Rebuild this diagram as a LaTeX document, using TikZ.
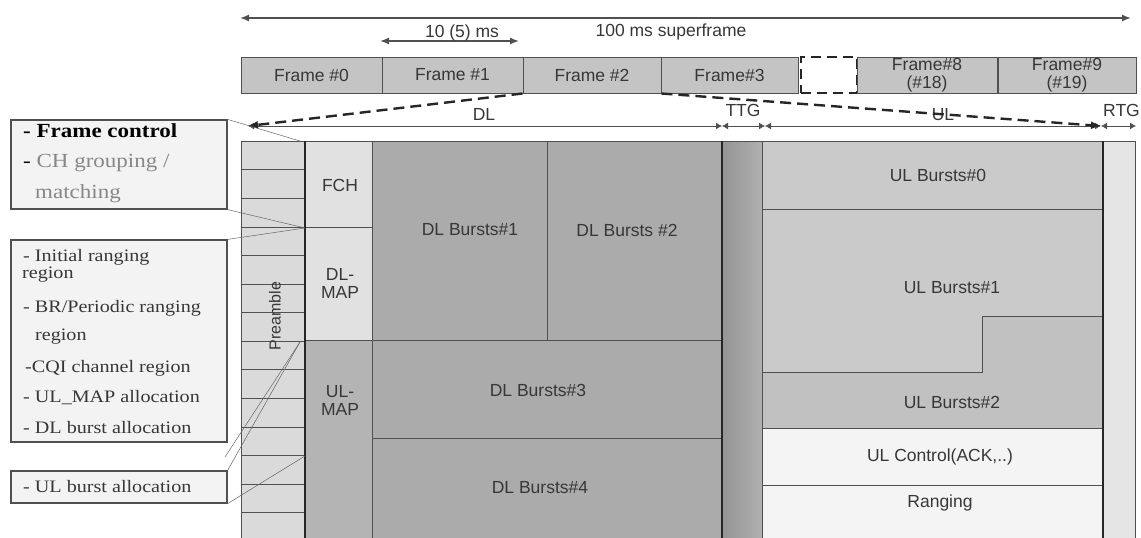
\documentclass[tikz,border=0pt]{standalone}
\usepackage{fontspec}
\setmainfont{Liberation Serif}
\setsansfont{Liberation Sans}
\newfontfamily\notefont[FakeStretch=1.15]{Liberation Serif}
\usepackage{tikz}
\usetikzlibrary{arrows.meta,positioning}

\definecolor{edge}{RGB}{80,80,80}
\definecolor{ink}{RGB}{55,55,55}
\definecolor{framegray}{RGB}{196,196,196}
\definecolor{pregray}{RGB}{218,218,218}
\definecolor{mapgray}{RGB}{225,225,225}
\definecolor{ulmapgray}{RGB}{180,180,180}
\definecolor{dlgray}{RGB}{171,171,171}
\definecolor{ttgdark}{RGB}{148,148,148}
\definecolor{ttglight}{RGB}{176,176,176}
\definecolor{ulgray}{RGB}{202,202,202}
\definecolor{ulgraydk}{RGB}{193,193,193}
\definecolor{ctrlwhite}{RGB}{244,244,244}
\definecolor{rtggray}{RGB}{229,229,229}
\definecolor{notefill}{RGB}{243,243,243}
\definecolor{softtext}{RGB}{135,135,135}

\tikzset{
  cell/.style={draw=edge, line width=1pt},
  sepline/.style={draw=black!85, line width=2.4pt},
  lbl/.style={font=\sffamily\fontsize{17.5}{18}\selectfont, text=ink, inner sep=0pt, align=center},
  framebox/.style={lbl, draw=edge, fill=framegray, line width=1pt, minimum height=36pt},
  note/.style={draw=edge, fill=notefill, line width=1.2pt, inner sep=0pt, minimum width=216pt},
  ntxt/.style={font=\notefont\fontsize{17.5}{20}\selectfont, text=ink, anchor=base west, inner sep=0pt},
  ntxtbig/.style={font=\notefont\fontsize{20}{22}\selectfont, text=black, anchor=base west, inner sep=0pt},
  lead/.style={draw=black!60, line width=0.5pt},
  bigdash/.style={draw=black!85, line width=2.4pt, dash pattern=on 11pt off 6pt,
                  -{Latex[length=10pt,width=8pt]}},
  span/.style={{Latex[length=9pt,width=7pt]}-{Latex[length=9pt,width=7pt]}, line width=1.4pt, draw=edge},
  gap/.style={{Latex[length=6pt,width=7pt]}-{Latex[length=6pt,width=7pt]}, line width=0.9pt, draw=edge},
}

\begin{document}
\begin{tikzpicture}[x=1pt, y=-1pt]
  \useasboundingbox (0,0) rectangle (1141,538);
  \clip (0,0) rectangle (1141,538);

  % superframe and frame length
  \coordinate (sfL) at (240,18);
  \coordinate (sfR) at (1131,18);
  \draw[span] (sfL) -- (sfR);
  \node[lbl] (sflbl) at (671,32) {100 ms superframe};
  \coordinate (frL) at (380,41);
  \coordinate (frR) at (519,41);
  \draw[span] (frL) -- (frR);
  \node[lbl] (frlbl) at (462,33) {10 (5) ms};

  % frame row
  \node[framebox, minimum width=141pt] (f0) at (311.5,75) {Frame \#0};
  \node[framebox, minimum width=141pt] (f1) at (452.5,75) {Frame \#1};
  \node[framebox, minimum width=138pt] (f2) at (592,75) {Frame \#2};
  \node[framebox, minimum width=137pt] (f3) at (729.5,75) {Frame\#3};
  \node[draw=black!85, line width=2pt, dash pattern=on 10pt off 6pt,
        minimum width=56pt, minimum height=36pt] (fdots) at (829,75) {};
  \node[framebox, minimum width=140pt] (f8) at (927,75) {Frame\#8\\(\#18)};
  \node[framebox, minimum width=138pt] (f9) at (1067,75) {Frame\#9\\(\#19)};

  % DL / TTG / UL / RTG spans
  \coordinate (dlL) at (248,126);
  \coordinate (dlR) at (722,126);
  \coordinate (ulL) at (765,126);
  \coordinate (ulR) at (1101,126);
  \coordinate (rtgR) at (1136,126);
  \draw[gap] (dlL) -- (dlR);
  \draw[gap] (dlR) -- (ulL);
  \draw[gap] (ulL) -- (ulR);
  \draw[gap] (ulR) -- (rtgR);
  \node[lbl] (dllbl) at (484,114) {DL};
  \node[lbl] (ttglbl) at (743,110) {TTG};
  \node[lbl] (ullbl) at (943,115) {UL};
  \node[lbl, anchor=east] (rtglbl) at (1140,110) {RTG};

  % zoom lines from Frame #2
  \draw[bigdash] (f2.south west) -- (dlL);
  \draw[bigdash] (f2.south east) -- (ulR);

  % preamble
  \draw[cell, fill=pregray] (241,141) rectangle (305,545);
  \draw[cell] (241,169) -- (305,169) (241,198) -- (305,198) (241,227) -- (305,227)
              (241,255) -- (305,255) (241,284) -- (305,284) (241,312) -- (305,312)
              (241,341) -- (305,341) (241,369) -- (305,369) (241,398) -- (305,398)
              (241,427) -- (305,427) (241,455) -- (305,455) (241,484) -- (305,484)
              (241,512) -- (305,512);
  \node[lbl, font=\sffamily\fontsize{16}{18}\selectfont, rotate=90] (pre) at (275,316) {Preamble};

  % FCH and maps
  \draw[cell, fill=mapgray] (305,141) rectangle (372,227);
  \draw[cell, fill=mapgray] (305,227) rectangle (372,340);
  \draw[cell, fill=ulmapgray] (305,340) rectangle (372,545);
  \node[lbl] (fch) at (340,185) {FCH};
  \node[lbl] (dlmap) at (340,283) {DL-\\MAP};
  \node[lbl] (ulmap) at (340,400) {UL-\\MAP};

  % DL bursts
  \draw[cell, fill=dlgray] (372,141) rectangle (547,340);
  \draw[cell, fill=dlgray] (547,141) rectangle (722,340);
  \draw[cell, fill=dlgray] (372,340) rectangle (722,438);
  \draw[cell, fill=dlgray] (372,438) rectangle (722,545);
  \node[lbl] (dlb1) at (470,230) {DL Bursts\#1};
  \node[lbl] (dlb2) at (627,230) {DL Bursts \#2};
  \node[lbl] (dlb3) at (538,390) {DL Bursts\#3};
  \node[lbl] (dlb4) at (540,488) {DL Bursts\#4};

  % TTG gap
  \shade[left color=ttgdark, right color=ttglight] (722,141) rectangle (762,545);
  \draw[cell] (722,141) rectangle (762,545);

  % UL part
  \draw[cell, fill=ulgray] (762,141) rectangle (1103,209);
  \draw[cell, fill=ulgray] (762,209) -- (1103,209) -- (1103,316) -- (982,316)
        -- (982,372) -- (762,372) -- cycle;
  \draw[cell, fill=ulgraydk] (762,372) -- (982,372) -- (982,316) -- (1103,316)
        -- (1103,428) -- (762,428) -- cycle;
  \draw[cell, fill=ctrlwhite] (762,428) rectangle (1103,485);
  \draw[cell, fill=ctrlwhite] (762,485) rectangle (1103,545);
  \node[lbl] (ulb0) at (938,175) {UL Bursts\#0};
  \node[lbl] (ulb1) at (952,288) {UL Bursts\#1};
  \node[lbl] (ulb2) at (952,402) {UL Bursts\#2};
  \node[lbl] (ulctrl) at (940,457) {UL Control(ACK,..)};
  \node[lbl] (rang) at (940,503) {Ranging};

  % RTG gap
  \draw[cell, fill=rtggray] (1103,141) rectangle (1135,545);

  % thick borders
  \draw[sepline] (305,141) -- (305,545);
  \draw[sepline] (722,141) -- (722,545);
  \draw[sepline] (1103,141) -- (1103,545);

  % notes on the left
  \node[note, minimum height=89pt] (ctrlnote) at (119,164.5) {};
  \node[ntxtbig, font=\notefont\bfseries\fontsize{20}{22}\selectfont] (n11) at (23,137) {- Frame control};
  \node[ntxtbig] (n12) at (23,167) {- {\color{softtext}CH grouping /}};
  \node[ntxtbig, text=softtext] (n13) at (35,198) {matching};

  \node[note, minimum height=202pt] (rangenote) at (119,341) {};
  \node[ntxt] (n21) at (23,261) {- Initial ranging};
  \node[ntxt] (n22) at (22,278) {region};
  \node[ntxt] (n23) at (23,312) {- BR/Periodic ranging};
  \node[ntxt] (n24) at (35,340) {region};
  \node[ntxt] (n25) at (25,372) {-CQI channel region};
  \node[ntxt] (n26) at (23,402) {- UL\_MAP allocation};
  \node[ntxt] (n27) at (23,433) {- DL burst allocation};

  \node[note, minimum height=32pt] (ulnote) at (119,487) {};
  \node[ntxt] (n31) at (23,492) {- UL burst allocation};

  % leader lines
  \coordinate (fchtop) at (300,141);
  \coordinate (mapjoin) at (305,228);
  \coordinate (ulmaptop) at (300,342);
  \coordinate (ulmapmid) at (305,456);
  \coordinate (strayend) at (225,457);
  \draw[lead] (ctrlnote.north east) -- (fchtop);
  \draw[lead] (ctrlnote.south east) -- (mapjoin);
  \draw[lead] (rangenote.north east) -- (mapjoin);
  \draw[lead] (strayend) -- (ulmaptop);
  \draw[lead] (ulnote.north east) -- (ulmaptop);
  \draw[lead] (ulnote.south east) -- (ulmapmid);
\end{tikzpicture}
\end{document}
